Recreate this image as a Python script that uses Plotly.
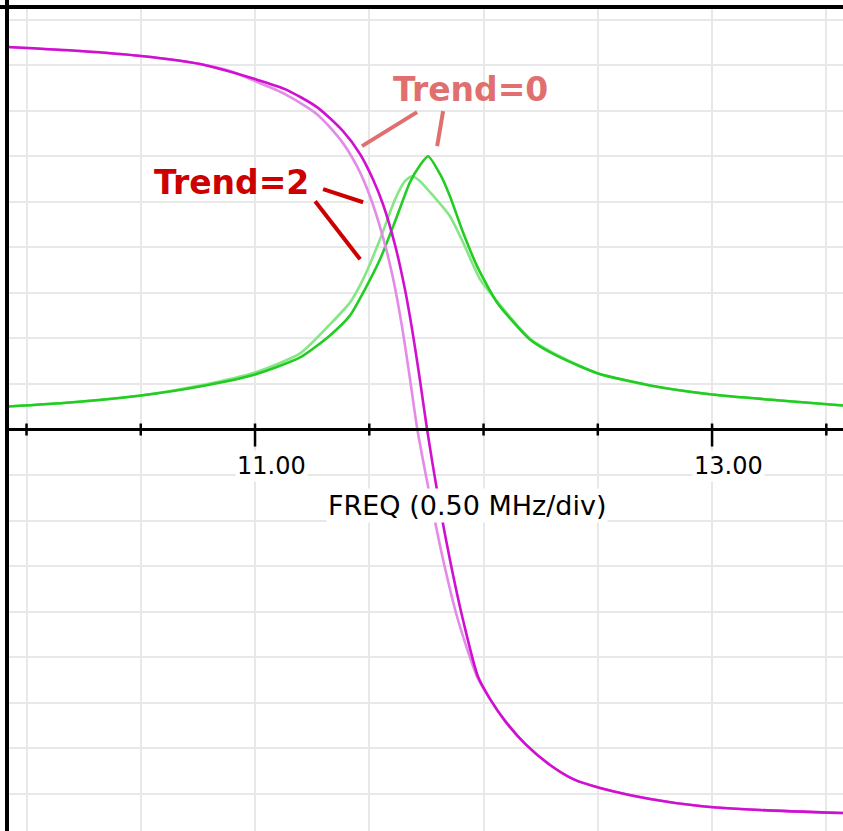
import plotly.graph_objects as go

# ---- data (frequency in MHz, response in grid divisions) ----
green_t0_freq = [9.919, 10.190, 10.501, 10.759, 11.000, 11.197, 11.328, 11.416, 11.481, 11.547,
                 11.613, 11.678, 11.722, 11.757, 11.810, 11.853, 11.910, 11.972, 12.059, 12.203,
                 12.335, 12.501, 12.729, 13.000, 13.298, 13.573]
green_t0_val = [0.505, 0.593, 0.747, 0.945, 1.209, 1.582, 2.066, 2.505, 3.077, 3.736,
                4.571, 5.429, 5.802, 6.000, 5.604, 5.121, 4.330, 3.582, 2.791, 1.978,
                1.582, 1.231, 0.967, 0.769, 0.637, 0.527]

green_t2_freq = [9.919, 10.190, 10.501, 10.759, 11.000, 11.197, 11.328, 11.416, 11.481, 11.547,
                 11.613, 11.656, 11.687, 11.722, 11.766, 11.853, 11.910, 11.985, 12.059, 12.203,
                 12.335, 12.501, 12.729, 13.000, 13.298, 13.573]
green_t2_val = [0.505, 0.593, 0.747, 0.967, 1.253, 1.670, 2.308, 2.791, 3.385, 4.176,
                5.055, 5.451, 5.560, 5.451, 5.209, 4.681, 4.110, 3.297, 2.813, 2.000,
                1.604, 1.231, 0.967, 0.769, 0.637, 0.527]

mag_t0_freq = [9.919, 10.234, 10.501, 10.759, 11.000, 11.131, 11.271, 11.385, 11.460, 11.516,
               11.560, 11.613, 11.656, 11.691, 11.722, 11.753, 11.801, 11.853, 11.910, 11.976,
               12.028, 12.094, 12.182, 12.291, 12.400, 12.510, 12.729, 12.947, 13.210, 13.573]
mag_t0_val = [8.396, 8.308, 8.198, 8.022, 7.692, 7.473, 7.077, 6.549, 6.044, 5.495,
              4.945, 4.044, 3.077, 2.088, 1.077, 0.000, -1.473, -2.857, -4.176, -5.429,
              -5.912, -6.396, -6.901, -7.363, -7.692, -7.868, -8.110, -8.264, -8.352, -8.418]

mag_t2_freq = [9.919, 10.234, 10.501, 10.759, 10.891, 11.000, 11.131, 11.271, 11.372, 11.446,
               11.503, 11.560, 11.604, 11.643, 11.674, 11.709, 11.766, 11.823, 11.888, 11.972,
               12.028, 12.094, 12.182, 12.291, 12.400, 12.510, 12.729, 12.947, 13.210, 13.573]
mag_t2_val = [8.396, 8.308, 8.198, 8.022, 7.868, 7.648, 7.363, 6.923, 6.374, 5.780,
              5.121, 4.220, 3.319, 2.264, 1.253, 0.044, -1.473, -2.857, -4.176, -5.429,
              -5.912, -6.396, -6.901, -7.363, -7.692, -7.868, -8.110, -8.264, -8.352, -8.418]

major_ticks = [10.0, 10.5, 11.0, 11.5, 12.0, 12.5, 13.0, 13.5]
labeled_ticks = [11.0, 13.0]
tick_labels = ["11.00", "13.00"]

fig = go.Figure()
fig.add_trace(go.Scatter(x=green_t2_freq, y=green_t2_val, mode="lines",
                         line=dict(color="#86e686", width=2.6, shape="spline", smoothing=0.6),
                         hoverinfo="skip"))
fig.add_trace(go.Scatter(x=green_t0_freq, y=green_t0_val, mode="lines",
                         line=dict(color="#22cc22", width=2.6, shape="spline", smoothing=0.6),
                         hoverinfo="skip"))
fig.add_trace(go.Scatter(x=mag_t2_freq, y=mag_t2_val, mode="lines",
                         line=dict(color="#e48ae8", width=2.6, shape="spline", smoothing=0.7),
                         hoverinfo="skip"))
fig.add_trace(go.Scatter(x=mag_t0_freq, y=mag_t0_val, mode="lines",
                         line=dict(color="#d010d0", width=2.6, shape="spline", smoothing=0.7),
                         hoverinfo="skip"))

shapes = []
# x axis line
shapes.append(dict(type="line", xref="paper", yref="y", x0=0, x1=1, y0=0, y1=0,
                   line=dict(color="black", width=3), layer="above"))
for t in major_ticks:
    if t in labeled_ticks:
        y0p, y1p = -17, 6
    else:
        y0p, y1p = -6, 6
    shapes.append(dict(type="line", xref="x", yref="y", x0=t, x1=t, ysizemode="pixel",
                       yanchor=0, y0=y0p, y1=y1p, line=dict(color="black", width=2.5),
                       layer="above"))
# frame (left and top)
shapes.append(dict(type="line", xref="paper", yref="paper", x0=0, x1=0, y0=0, y1=1.01,
                   line=dict(color="black", width=4), layer="above"))
shapes.append(dict(type="line", xref="paper", yref="paper", x0=-0.01, x1=1, y0=1, y1=1,
                   line=dict(color="black", width=4), layer="above"))
# leader lines
shapes.append(dict(type="line", xref="x", yref="y", x0=11.709, y0=6.967, x1=11.468, y1=6.220,
                   line=dict(color="#e07070", width=4), layer="above"))
shapes.append(dict(type="line", xref="x", yref="y", x0=11.823, y0=6.989, x1=11.797, y1=6.220,
                   line=dict(color="#e07070", width=4), layer="above"))
shapes.append(dict(type="line", xref="x", yref="y", x0=11.298, y0=5.275, x1=11.473, y1=4.989,
                   line=dict(color="#cc0000", width=4), layer="above"))
shapes.append(dict(type="line", xref="x", yref="y", x0=11.263, y0=5.011, x1=11.460, y1=3.736,
                   line=dict(color="#cc0000", width=4), layer="above"))

annotations = []
for t, lab in zip(labeled_ticks, tick_labels):
    annotations.append(dict(x=t, y=0, xref="x", yref="y", yshift=-36, xshift=16, text=lab,
                            showarrow=False, bgcolor="white",
                            font=dict(family="DejaVu Sans", size=24, color="black")))
annotations.append(dict(x=11.927, y=0, xref="x", yref="y", yshift=-76,
                        text="FREQ (0.50 MHz/div)", showarrow=False, bgcolor="white",
                        font=dict(family="DejaVu Sans", size=27, color="black")))
annotations.append(dict(x=11.945, y=7.473, xref="x", yref="y", text="<b>Trend=0</b>",
                        showarrow=False,
                        font=dict(family="DejaVu Sans", size=33, color="#e07070")))
annotations.append(dict(x=10.899, y=5.429, xref="x", yref="y", text="<b>Trend=2</b>",
                        showarrow=False,
                        font=dict(family="DejaVu Sans", size=33, color="#cc0000")))

fig.update_layout(
    width=843, height=831,
    margin=dict(l=7, r=0, t=7, b=0),
    paper_bgcolor="white", plot_bgcolor="white",
    showlegend=False,
    shapes=shapes, annotations=annotations,
    xaxis=dict(range=[9.919 - 0.0044, 13.573], showticklabels=False, ticks="",
               showgrid=True, gridcolor="#e8e8e8", gridwidth=2, tick0=10.0, dtick=0.5,
               zeroline=False, showline=False),
    yaxis=dict(range=[-8.813, 9.275], showticklabels=False, ticks="",
               showgrid=True, gridcolor="#e8e8e8", gridwidth=2, tick0=0, dtick=1,
               zeroline=False, showline=False),
)

fig.write_html("out.html", config={"displayModeBar": False},
               post_script="document.body.style.margin='0';document.body.style.overflow='hidden';")
